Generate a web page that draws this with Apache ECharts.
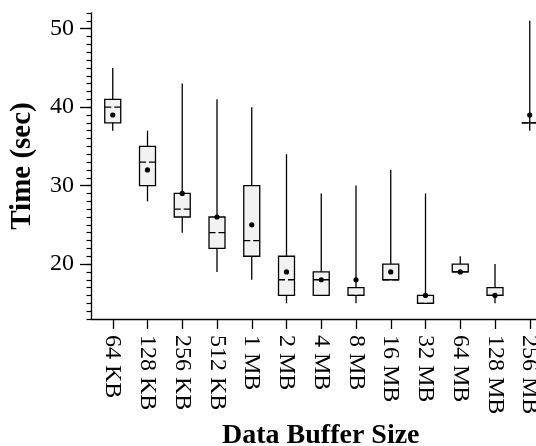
<!DOCTYPE html>
<html>
<head>
<meta charset="utf-8">
<script src="https://cdn.jsdelivr.net/npm/echarts@6/dist/echarts.min.js"></script>
<style>
  html, body { margin: 0; padding: 0; background: #fff; }
  #chart { width: 536px; height: 446px; }
</style>
</head>
<body>
<div id="chart"></div>
<script>
// buffer sizes on the x axis
var sizes = ['64 KB', '128 KB', '256 KB', '512 KB', '1 MB', '2 MB', '4 MB', '8 MB',
             '16 MB', '32 MB', '64 MB', '128 MB', '256 MB'];
// box statistics per buffer size (sec)
var mins    = [37, 28, 24, 19, 18, 15, 16, 15, 18, 15, 19, 15, 37];
var q1s     = [38, 30, 26, 22, 21, 16, 16, 16, 18, 15, 19, 16, 38];
var medians = [40, 33, 27, 24, 23, 18, 18, 16, 18, 15, 19, 16, 38];
var q3s     = [41, 35, 29, 26, 30, 21, 19, 17, 20, 16, 20, 17, 38];
var maxs    = [45, 37, 43, 41, 40, 34, 29, 30, 32, 29, 21, 20, 51];
var means   = [39, 32, 29, 26, 25, 19, 18, 18, 19, 16, 19, 16, 39];
var majorTicks = [20, 30, 40, 50];

var FONT = '"Liberation Serif", "Times New Roman", serif';

// slot positions start at 1 so the x range never contains zero
var pos = sizes.map(function (s, i) { return i + 1; });
var rows = sizes.map(function (s, i) {
    return [pos[i], mins[i], q1s[i], medians[i], q3s[i], maxs[i], means[i]];
});

var chart = echarts.init(document.getElementById('chart'));

function renderBox(params, api) {
    var x = api.value(0);
    var pMin = api.coord([x, api.value(1)]);
    var pQ1 = api.coord([x, api.value(2)]);
    var pMed = api.coord([x, api.value(3)]);
    var pQ3 = api.coord([x, api.value(4)]);
    var pMax = api.coord([x, api.value(5)]);
    var pMean = api.coord([x, api.value(6)]);
    var half = api.size([1, 0])[0] * 0.23;
    var line = { stroke: '#000', lineWidth: 1.3 };
    return {
        type: 'group',
        children: [
            { type: 'line', shape: { x1: pMin[0], y1: pMin[1], x2: pMax[0], y2: pMax[1] }, style: line },
            { type: 'rect', shape: { x: pQ3[0] - half, y: pQ3[1], width: half * 2, height: pQ1[1] - pQ3[1] },
              style: { fill: '#f2f2f2', stroke: '#000', lineWidth: 1.3 } },
            { type: 'line', shape: { x1: pMed[0] - half, y1: pMed[1], x2: pMed[0] + half, y2: pMed[1] },
              style: { stroke: '#000', lineWidth: 1.3, lineDash: [half - 1.5, 3] } },
            { type: 'circle', shape: { cx: pMean[0], cy: pMean[1], r: 2.6 }, style: { fill: '#000' } }
        ]
    };
}

chart.setOption({
    animation: false,
    backgroundColor: '#fff',
    textStyle: { fontFamily: FONT, color: '#000' },
    grid: { left: 91, right: -14.6, top: 13, bottom: 127, containLabel: false, outerBoundsMode: 'none' },
    xAxis: {
        type: 'value',
        min: 0.374,
        max: 13.6,
        name: 'Data Buffer Size',
        nameLocation: 'middle',
        nameGap: 98,
        nameTextStyle: { fontFamily: FONT, fontSize: 28, fontWeight: 'bold', color: '#000' },
        axisLine: { show: true, lineStyle: { color: '#000', width: 1.3 } },
        axisTick: { show: true, customValues: pos, length: 10, lineStyle: { color: '#000', width: 1.3 } },
        axisLabel: {
            customValues: pos,
            rotate: -90,
            margin: 16,
            fontFamily: FONT,
            fontSize: 24,
            color: '#000',
            formatter: function (v) { return sizes[Math.round(v) - 1]; }
        },
        splitLine: { show: false }
    },
    yAxis: [{
        type: 'value',
        min: 13,
        max: 52,
        interval: 1,
        position: 'left',
        name: 'Time (sec)',
        nameLocation: 'middle',
        nameGap: 54,
        nameTextStyle: { fontFamily: FONT, fontSize: 29, fontWeight: 'bold', color: '#000' },
        axisLine: { show: true, lineStyle: { color: '#000', width: 1.3 } },
        axisTick: { show: true, length: 4.5, lineStyle: { color: '#000', width: 1.2 } },
        axisLabel: { show: false },
        splitLine: { show: false }
    }, {
        type: 'value',
        min: 13,
        max: 52,
        position: 'left',
        offset: 0,
        axisLine: { show: false },
        axisTick: { show: true, customValues: majorTicks, length: 11, lineStyle: { color: '#000', width: 1.3 } },
        axisLabel: { customValues: majorTicks, margin: 17, fontFamily: FONT, fontSize: 24, color: '#000' },
        splitLine: { show: false }
    }],
    series: [{
        type: 'custom',
        renderItem: renderBox,
        encode: { x: 0, y: [1, 2, 3, 4, 5, 6] },
        data: rows,
        clip: false
    }]
});
</script>
</body>
</html>
